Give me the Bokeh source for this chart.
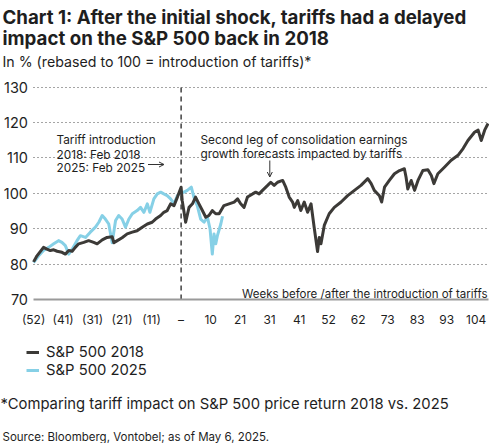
from bokeh.plotting import figure
from bokeh.models import (FixedTicker, Label, Arrow, OpenHead, Legend,
                          LegendItem, Range1d)
from bokeh.embed import file_html
from bokeh.resources import INLINE

# ---------------- data ----------------
weeks_2018 = [-52.0, -50.8, -48.5, -47.3, -46.1, -44.9, -43.7, -42.0, -40.8, -39.6,
              -38.4, -37.3, -36.1, -34.3, -32.6, -30.8, -29.6, -27.8, -26.1, -24.3,
              -23.7, -22.5, -20.8, -19.0, -17.2, -15.5, -13.7, -11.9, -10.2, -9.0,
              -7.2, -6.1, -4.9, -3.7, -2.5, -1.3, 0.0, 0.4, 1.6, 2.8,
              4.0, 5.1, 6.3, 7.5, 8.7, 9.8, 11.0, 12.2, 13.4, 15.1,
              16.9, 18.7, 19.9, 21.0, 22.2, 23.4, 25.2, 26.3, 27.5, 28.7,
              30.5, 31.6, 32.8, 34.0, 35.8, 36.9, 38.1, 39.3, 39.9, 41.1,
              42.2, 43.4, 44.6, 45.8, 46.9, 48.1, 48.7, 49.3, 50.5, 52.2,
              54.0, 56.4, 58.7, 61.1, 63.4, 65.8, 67.0, 68.1, 69.9, 70.7,
              71.7, 73.4, 75.2, 77.0, 78.7, 79.3, 79.9, 81.1, 82.3, 83.5,
              85.2, 87.0, 88.2, 89.1, 90.5, 92.9, 95.2, 97.6, 99.4, 101.1,
              103.5, 104.7, 105.8, 107.0, 108.2]
sp500_2018 = [80.6, 82.3, 84.7, 84.2, 83.8, 84.0, 83.6, 83.3, 82.8, 83.8,
              83.6, 84.7, 85.7, 86.1, 86.6, 86.1, 85.7, 86.8, 87.5, 87.7,
              86.0, 86.6, 87.4, 88.5, 89.0, 89.4, 90.4, 91.3, 91.8, 92.7,
              93.7, 94.6, 95.1, 97.0, 96.5, 98.9, 101.7, 97.9, 91.8, 96.0,
              97.0, 98.9, 97.0, 95.1, 93.2, 93.7, 95.1, 94.2, 94.2, 96.5,
              97.0, 97.5, 98.4, 97.0, 96.0, 98.9, 99.8, 100.3, 99.8, 100.8,
              102.2, 103.1, 102.2, 103.1, 103.6, 101.7, 98.9, 97.5, 96.0, 97.9,
              95.1, 97.5, 94.6, 97.0, 90.4, 83.5, 87.5, 85.7, 91.0, 94.2,
              96.0, 97.5, 99.3, 100.8, 102.2, 104.1, 102.7, 100.8, 99.3, 97.5,
              101.7, 103.6, 105.5, 106.4, 106.9, 104.5, 101.2, 103.6, 100.8, 103.6,
              106.4, 106.6, 105.0, 102.7, 105.5, 107.4, 109.3, 110.7, 112.6, 114.9,
              117.3, 117.8, 114.9, 117.8, 119.7]

weeks_2025 = [-52.0, -50.2, -48.5, -46.7, -44.9, -43.2, -42.0, -40.8, -39.6, -38.4,
              -36.7, -35.5, -33.7, -32.0, -30.2, -29.0, -27.8, -26.7, -25.5, -24.3,
              -23.1, -22.0, -20.8, -19.6, -18.4, -17.2, -15.5, -14.3, -13.1, -11.9,
              -11.0, -9.6, -8.4, -7.2, -6.1, -4.9, -3.7, -2.5, -1.3, 0.0,
              1.0, 2.2, 3.6, 4.5, 5.7, 6.9, 8.1, 9.3, 10.2, 11.0,
              11.6, 12.2, 12.8, 14.0, 14.6]
sp500_2025 = [80.4, 82.3, 83.8, 84.7, 85.7, 86.6, 86.1, 85.2, 82.8, 84.2,
              86.6, 88.0, 87.5, 89.0, 90.4, 91.8, 93.7, 92.7, 91.3, 86.0,
              92.3, 93.7, 92.7, 90.4, 92.7, 94.2, 95.1, 96.0, 94.6, 97.0,
              94.6, 98.4, 99.8, 100.3, 99.8, 99.3, 98.4, 97.0, 99.3, 100.3,
              100.3, 100.8, 101.7, 98.9, 96.5, 92.7, 91.8, 93.2, 89.9, 82.8,
              88.5, 85.7, 88.0, 91.3, 93.5]

tariff_week = 0

y_ticks = [70, 80, 90, 100, 110, 120, 130]
x_ticks = [-52, -41.6, -31.2, -20.8, -10.4, 0, 10.4, 20.8, 31.2, 41.6,
           52, 62.4, 72.8, 83.2, 93.6, 104]
x_tick_labels = ["(52)", "(41)", "(31)", "(21)", "(11)", "\u2013", "10", "21", "31", "41",
                 "52", "62", "73", "83", "93", "104"]

title_lines = ["Chart 1: After the initial shock, tariffs had a delayed",
               "impact on the S&P 500 back in 2018"]
subtitle = "In % (rebased to 100 = introduction of tariffs)*"
axis_note = "Weeks before /after the introduction of tariffs"
note_left = ["Tariff introduction", "2018: Feb 2018", "2025: Feb 2025"]
note_right = ["Second leg of consolidation earnings", "growth forecasts impacted by tariffs"]
footnote = "*Comparing tariff impact on S&P 500 price return 2018 vs. 2025"
source = "Source: Bloomberg, Vontobel; as of May 6, 2025."
series_names = ["S&P 500 2018", "S&P 500 2025"]

# ---------------- layout ----------------
FONT = "Inter"
TXT = "#1e1e1e"
C18 = "#3c3a37"
C25 = "#86d0e6"
W, H = 489, 443
# pixel geometry of the plot area: week 0 / value 100 position and scale
OX, PPX = 180.6, 2.837
OY, PPY = 192.7, 3.54
X0, X1 = -52.2, 108.3          # horizontal extent of the plot area (weeks)
Y0, Y1 = y_ticks[0], y_ticks[-1]


def dx(cx):
    return (cx - OX) / PPX


def dy(cy):
    return 100 + (OY - cy) / PPY


p = figure(width=W, height=H, output_backend="svg", toolbar_location=None,
           title=None, x_range=Range1d(dx(0), dx(W)), y_range=Range1d(dy(H), dy(0)),
           min_border_left=0, min_border_right=0,
           min_border_top=0, min_border_bottom=0)
p.outline_line_color = None
p.background_fill_color = "white"
p.border_fill_color = "white"

# axes (drawn at fixed data positions inside the canvas)
p.yaxis.fixed_location = X0
p.yaxis.bounds = (Y0, Y1)
p.yaxis.ticker = FixedTicker(ticks=y_ticks)
p.yaxis.axis_line_color = None
p.yaxis.major_tick_line_color = None
p.yaxis.major_tick_out = 0
p.yaxis.major_tick_in = 0
p.yaxis.minor_tick_line_color = None
p.yaxis.major_label_text_font = FONT
p.yaxis.major_label_text_font_size = "14.5px"
p.yaxis.major_label_text_color = TXT
p.yaxis.major_label_standoff = 5

p.xaxis.fixed_location = Y0
p.xaxis.bounds = (X0, X1)
p.xaxis.ticker = FixedTicker(ticks=x_ticks)
p.xaxis.major_label_overrides = {t: l for t, l in zip(x_ticks, x_tick_labels)}
p.xaxis.axis_line_color = "#9a9a9a"
p.xaxis.axis_line_width = 2
p.xaxis.major_tick_line_color = None
p.xaxis.major_tick_out = 0
p.xaxis.major_tick_in = 0
p.xaxis.minor_tick_line_color = None
p.xaxis.major_label_text_font = FONT
p.xaxis.major_label_text_font_size = "12px"
p.xaxis.major_label_text_color = TXT
p.xaxis.major_label_standoff = 13

p.xgrid.visible = False
p.ygrid.ticker = FixedTicker(ticks=y_ticks[1:])
p.ygrid.bounds = (Y0, Y1)
p.ygrid.cross_bounds = (X0, X1)
p.ygrid.grid_line_color = "#4a4a4a"
p.ygrid.grid_line_dash = "1 3"
p.ygrid.grid_line_width = 1

p.segment(x0=[tariff_week], y0=[Y0], x1=[tariff_week], y1=[Y1],
          line_color="#222222", line_dash="5 4", line_width=1.3)

r25 = p.line(weeks_2025, sp500_2025, line_color=C25, line_width=3, line_join="round")
r18 = p.line(weeks_2018, sp500_2018, line_color=C18, line_width=3, line_join="round")

legend = Legend(items=[LegendItem(label=series_names[0], renderers=[r18]),
                       LegendItem(label=series_names[1], renderers=[r25])],
                location=(26, H - 379), orientation="vertical",
                padding=0, margin=0, spacing=0, border_line_color=None,
                background_fill_alpha=0, glyph_width=13, glyph_height=18,
                label_height=18, label_standoff=7,
                label_text_font=FONT, label_text_font_size="14.8px",
                label_text_color=TXT)
p.add_layout(legend, "center")


def text(cx, cy, s, size, bold=False, align="left"):
    p.add_layout(Label(x=dx(cx), y=dy(cy), text=s, text_font=FONT,
                       text_font_size=size,
                       text_font_style="bold" if bold else "normal",
                       text_color=TXT, text_align=align,
                       text_baseline="alphabetic"))


# titles
text(2, 16.7, title_lines[0], "18.7px", bold=True)
text(2, 37.7, title_lines[1], "18.7px", bold=True)
text(2, 61, subtitle, "14.2px")

# in-plot notes
text(487, 293.3, axis_note, "11.5px", align="right")
for s, cy in zip(note_left, [139.3, 154.0, 167.7]):
    text(56, cy, s, "11.8px")
for s, cy in zip(note_right, [139.3, 153.6]):
    text(200, cy, s, "11.8px")

p.add_layout(Arrow(end=OpenHead(size=5, line_color="#333333", line_width=1),
                   x_start=dx(147.5), y_start=dy(164), x_end=dx(163.5), y_end=dy(164),
                   line_color="#333333", line_width=1))
p.add_layout(Arrow(end=OpenHead(size=5, line_color="#333333", line_width=1),
                   x_start=dx(269.3), y_start=dy(160), x_end=dx(269.3), y_end=dy(176.5),
                   line_color="#333333", line_width=1))

# footer
text(0, 403, footnote, "14.8px")
text(2, 436, source, "11.5px")

open("out.html", "w").write(file_html(p, INLINE))
